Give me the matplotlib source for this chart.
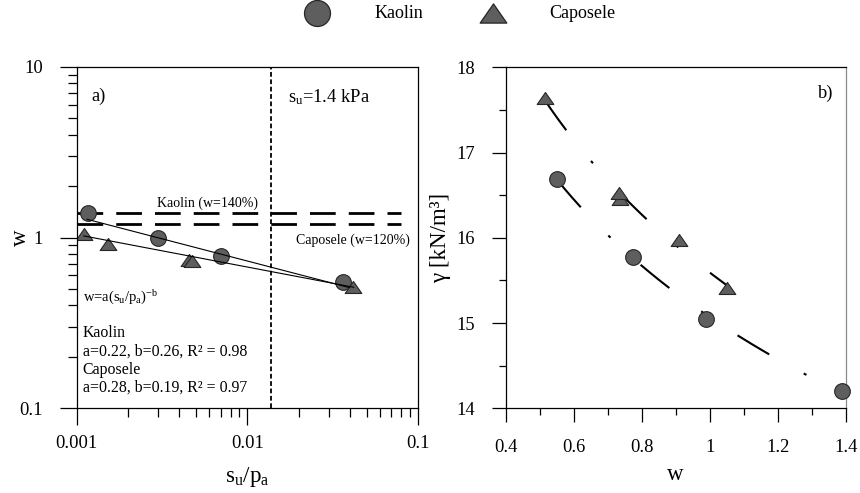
import numpy as np
import matplotlib
matplotlib.use("Agg")
import matplotlib.pyplot as plt
from matplotlib.path import Path
from matplotlib.lines import Line2D
from matplotlib.ticker import FixedLocator, FuncFormatter, MultipleLocator, NullFormatter

plt.rcParams.update({
    "font.family": ["Liberation Serif", "DejaVu Serif"],
    "mathtext.fontset": "custom",
    "mathtext.rm": "Liberation Serif",
    "mathtext.it": "Liberation Serif:italic",
    "mathtext.bf": "Liberation Serif:bold",
    "lines.scale_dashes": False,
})

# ---- data -------------------------------------------------------------
# Kaolin specimens
kaolin_su_pa = [0.00117, 0.00299, 0.00698, 0.0366]
kaolin_w = [1.39, 0.99, 0.775, 0.55]
kaolin_gamma = [14.2, 15.05, 15.78, 16.69]

# Caposele specimens
caposele_su_pa = [0.00111, 0.00153, 0.00455, 0.00472, 0.0418]
caposele_w = [1.05, 0.91, 0.735, 0.733, 0.515]
caposele_gamma = [15.41, 15.98, 16.46, 16.52, 17.64]

# power-law fits w = a (su/pa)^-b
kaolin_a, kaolin_b, kaolin_r2 = 0.22, 0.26, 0.98
caposele_a, caposele_b, caposele_r2 = 0.28, 0.19, 0.97
kaolin_fit_range = [0.00115, 0.0395]
caposele_fit_range = [0.0011, 0.042]

# reference water contents
kaolin_wref = 1.40
caposele_wref = 1.20
wref_range = [0.001, 0.08]

# reference undrained strength
su_ref_kpa = 1.4
pa_kpa = 101.325

# ---- styling ----------------------------------------------------------
FILL = "#5e5e5e"
EDGE = "#262626"
tri = Path([(0, 0.72), (-1, -0.72), (1, -0.72), (0, 0.72)],
           [Path.MOVETO, Path.LINETO, Path.LINETO, Path.CLOSEPOLY])

fig = plt.figure(figsize=(8.6, 4.93), dpi=100)
ax1 = fig.add_axes([0.0892, 0.1718, 0.3967, 0.6929])
ax2 = fig.add_axes([0.5880, 0.1718, 0.3953, 0.6917])

fmt = FuncFormatter(lambda v, _: f"{v:g}")

# ---- panel a ----------------------------------------------------------
ax1.set_xscale("log")
ax1.set_yscale("log")
ax1.set_xlim(0.001, 0.1)
ax1.set_ylim(0.1, 10)

ax1.plot(kaolin_su_pa, kaolin_w, ls="none", marker="o", ms=11.3,
         mfc=FILL, mec=EDGE, mew=0.8, zorder=2)
ax1.plot(caposele_su_pa, caposele_w, ls="none", marker=tri, ms=12,
         mfc=FILL, mec=EDGE, mew=0.8, zorder=2)

xk = np.geomspace(*kaolin_fit_range, 60)
ax1.plot(xk, kaolin_a * xk ** (-kaolin_b), color="k", lw=0.8, zorder=3)
xc = np.geomspace(*caposele_fit_range, 60)
ax1.plot(xc, caposele_a * xc ** (-caposele_b), color="k", lw=0.8, zorder=3)

for wref in (kaolin_wref, caposele_wref):
    ax1.plot(wref_range, [wref, wref], color="k", lw=2.0,
             ls=(0, (18.5, 9.4)), zorder=1)

ax1.axvline(su_ref_kpa / pa_kpa, color="k", lw=1.3, ls=(0, (3.4, 1.9)), zorder=1)

ax1.xaxis.set_major_locator(FixedLocator([0.001, 0.01, 0.1]))
ax1.yaxis.set_major_locator(FixedLocator([0.1, 1, 10]))
ax1.xaxis.set_minor_locator(FixedLocator(
    [m * d for d in (0.001, 0.01) for m in range(2, 10)]))
ax1.yaxis.set_minor_locator(FixedLocator(
    [m * d for d in (0.1, 1) for m in range(2, 10)]))
ax1.xaxis.set_major_formatter(fmt)
ax1.yaxis.set_major_formatter(fmt)
ax1.xaxis.set_minor_formatter(NullFormatter())
ax1.yaxis.set_minor_formatter(NullFormatter())
ax1.tick_params(which="both", direction="out", width=0.9, labelsize=13.3)
ax1.tick_params(which="major", length=12.2)
ax1.tick_params(which="minor", length=6.5)
ax1.tick_params(axis="y", which="major", pad=12)
ax1.tick_params(axis="x", which="major", pad=7)

ax1.set_xlabel(r"s$_\mathrm{u}$/p$_\mathrm{a}$", fontsize=16.5)
ax1.set_ylabel("w", fontsize=16.5)
ax1.xaxis.set_label_coords(0.5, -0.201)
ax1.xaxis.label.set_va("center")
ax1.yaxis.set_label_coords(-0.166, 0.5)
ax1.yaxis.label.set_va("center")

ax1.text(0.044, 0.912, "a)", transform=ax1.transAxes, fontsize=13.3,
         ha="left", va="center")
ax1.text(0.620, 0.912, r"s$_\mathrm{u}$=1.4 kPa", transform=ax1.transAxes,
         fontsize=13.3, ha="left", va="center")
ax1.text(0.383, 0.600, "Kaolin (w=140%)", transform=ax1.transAxes,
         fontsize=10, ha="center", va="center")
ax1.text(0.977, 0.4906, "Caposele (w=120%)", transform=ax1.transAxes,
         fontsize=10, ha="right", va="center")
ax1.text(0.0193, 0.322, r"w=a(s$_\mathrm{u}$/p$_\mathrm{a}$)$^\mathrm{-b}$",
         transform=ax1.transAxes, fontsize=10.5, ha="left", va="center")
block = [
    "Kaolin",
    f"a={kaolin_a:.2f}, b={kaolin_b:.2f}, R\u00b2 = {kaolin_r2:.2f}",
    "Caposele",
    f"a={caposele_a:.2f}, b={caposele_b:.2f}, R\u00b2 = {caposele_r2:.2f}",
]
for line, yf in zip(block, [0.2196, 0.1657, 0.1121, 0.0615]):
    ax1.text(0.0176, yf, line, transform=ax1.transAxes, fontsize=11.4,
             ha="left", va="center")

# ---- panel b ----------------------------------------------------------
ax2.set_xlim(0.4, 1.4)
ax2.set_ylim(14, 18)

dashdot = (0, (26.6, 28.4, 2.2, 29.2))
for w, g in ((kaolin_w, kaolin_gamma), (caposele_w, caposele_gamma)):
    coef = np.polyfit(np.log(w), g, 1)
    ws = np.linspace(min(w), max(w), 300)
    ax2.plot(ws, np.polyval(coef, np.log(ws)), color="k", lw=1.5,
             ls=dashdot, zorder=2)

ax2.plot(kaolin_w, kaolin_gamma, ls="none", marker="o", ms=11.3,
         mfc=FILL, mec=EDGE, mew=0.8, zorder=3, clip_on=False)
ax2.plot(caposele_w, caposele_gamma, ls="none", marker=tri, ms=12,
         mfc=FILL, mec=EDGE, mew=0.8, zorder=3, clip_on=False)

ax2.xaxis.set_major_locator(MultipleLocator(0.2))
ax2.xaxis.set_minor_locator(MultipleLocator(0.1))
ax2.yaxis.set_major_locator(MultipleLocator(1))
ax2.yaxis.set_minor_locator(MultipleLocator(0.5))
ax2.xaxis.set_major_formatter(fmt)
ax2.yaxis.set_major_formatter(fmt)
ax2.tick_params(which="both", direction="out", width=0.9, labelsize=13.3)
ax2.tick_params(which="major", length=10)
ax2.tick_params(which="minor", length=5)
ax2.tick_params(axis="y", which="major", pad=12)
ax2.tick_params(axis="x", which="major", pad=12)
ax2.spines["right"].set_color("#8c8c8c")

ax2.set_xlabel("w", fontsize=16.5)
ax2.set_ylabel("\u03b3 [kN/m\u00b3]", fontsize=16.5)
ax2.xaxis.set_label_coords(0.5, -0.193)
ax2.xaxis.label.set_va("center")
ax2.yaxis.set_label_coords(-0.193, 0.5)
ax2.yaxis.label.set_va("center")

ax2.text(0.9636, 0.9238, "b)", transform=ax2.transAxes, fontsize=13.3,
         ha="right", va="center")

for ax in (ax1, ax2):
    for s in ax.spines.values():
        s.set_linewidth(0.9)

# ---- legend -----------------------------------------------------------
ly = 1 - 13.3 / 493
fig.add_artist(Line2D([316.7 / 860], [ly], transform=fig.transFigure,
                      ls="none", marker="o", ms=18.7, mfc=FILL, mec=EDGE, mew=0.9))
fig.text(375 / 860, ly, "Kaolin", fontsize=13, ha="left", va="center")
fig.add_artist(Line2D([493.3 / 860], [ly], transform=fig.transFigure,
                      ls="none", marker=tri, ms=19.2, mfc=FILL, mec=EDGE, mew=0.9))
fig.text(549.3 / 860, ly, "Caposele", fontsize=13, ha="left", va="center")

fig.savefig("out.png", dpi=100)
